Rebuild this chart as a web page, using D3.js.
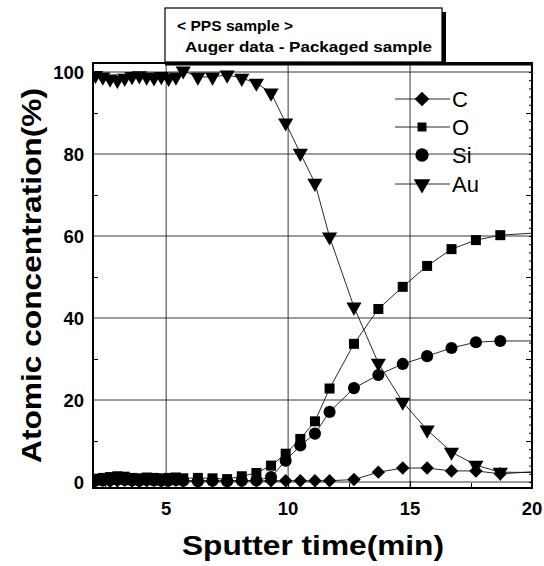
<!DOCTYPE html>
<html>
<head>
<meta charset="utf-8">
<script src="https://cdn.jsdelivr.net/npm/d3@7"></script>
<style>
  body { margin: 0; background: #fff; }
  text { font-family: "Liberation Sans", Arial, sans-serif; }
</style>
</head>
<body>
<div id="chart"></div>
<script>
// sputter time (min)
var time = [2.1, 2.4, 2.7, 3.0, 3.3, 3.6, 3.9, 4.2, 4.5, 4.8, 5.1, 5.4, 5.7, 6.3, 6.9, 7.5, 8.1, 8.7, 9.3, 9.9,
            10.5, 11.1, 11.7, 12.7, 13.7, 14.7, 15.7, 16.7, 17.7, 18.7, 20.3];
var C  = [0.3, 0.4, 0.2, 0.3, 0.4, 0.3, 0.2, 0.3, 0.4, 0.3, 0.3, 0.4, 0.3, 0.3, 0.3, 0.3, 0.3, 0.3, 0.3, 0.3,
          0.3, 0.3, 0.3, 0.6, 2.4, 3.4, 3.4, 2.7, 2.7, 2.0, 2.6];
var O  = [0.8, 1.0, 1.2, 1.4, 1.3, 1.0, 0.9, 1.1, 1.0, 0.9, 1.0, 1.1, 0.9, 1.0, 0.9, 0.7, 1.4, 2.2, 4.0, 6.9,
          10.5, 14.8, 22.8, 33.7, 42.2, 47.6, 52.7, 56.8, 59.0, 60.2, 60.8];
var Si = [0.3, 0.4, 0.5, 0.6, 0.5, 0.4, 0.3, 0.5, 0.4, 0.3, 0.4, 0.5, 0.3, 0.2, 0.3, 0.2, 0.3, 0.4, 1.2, 5.2,
          8.9, 11.8, 17.1, 22.9, 26.1, 28.8, 30.7, 32.7, 34.1, 34.4, 34.4];
var Au = [99.2, 98.8, 98.3, 98.0, 98.5, 98.9, 99.1, 98.8, 98.6, 98.9, 98.5, 98.8, 100.3, 98.8, 98.8, 99.3, 98.5, 97.3, 94.9, 87.6,
          80.2, 72.9, 59.8, 42.7, 29.0, 19.5, 12.7, 7.3, 4.1, 2.4, 2.3];

var seriesNames = ["C", "O", "Si", "Au"];
var seriesValues = [C, O, Si, Au];
var xTicks = [5, 10, 15, 20];
var xMinorTicks = [2.5, 7.5, 12.5, 17.5];
var yTicks = [0, 20, 40, 60, 80, 100];
var yMinorTicks = [10, 30, 50, 70, 90];
var titleLines = ["< PPS sample >", "Auger data - Packaged sample"];

var width = 544, height = 566;
var plot = {left: 93, right: 532, top: 63, bottom: 488};

var x = d3.scaleLinear().domain([2, 20]).range([plot.left, plot.right]);
var y = d3.scaleLinear().domain([0, 100]).range([482, 72]);

var svg = d3.select("#chart").append("svg")
    .attr("width", width)
    .attr("height", height);

svg.append("clipPath").attr("id", "clip")
  .append("rect")
    .attr("x", plot.left).attr("y", plot.top - 10)
    .attr("width", plot.right - plot.left).attr("height", plot.bottom - plot.top + 10);

// grid
var grid = svg.append("g").attr("stroke", "#222").attr("stroke-width", 0.9);
grid.selectAll(".vg").data([5, 10, 15]).enter().append("line")
    .attr("x1", d => x(d)).attr("x2", d => x(d))
    .attr("y1", plot.top).attr("y2", plot.bottom);
grid.selectAll(".hg").data(yTicks).enter().append("line")
    .attr("x1", plot.left).attr("x2", plot.right)
    .attr("y1", d => y(d)).attr("y2", d => y(d));

// axes with inward ticks
svg.append("g")
    .attr("transform", "translate(0," + plot.bottom + ")")
    .call(d3.axisTop(x).tickValues(xTicks).tickSize(7).tickFormat(""))
    .call(g => g.select(".domain").remove());
svg.append("g")
    .attr("transform", "translate(0," + plot.bottom + ")")
    .call(d3.axisTop(x).tickValues(xMinorTicks).tickSize(5).tickFormat(""))
    .call(g => g.select(".domain").remove());
svg.append("g")
    .attr("transform", "translate(" + plot.left + ",0)")
    .call(d3.axisRight(y).tickValues(yMinorTicks).tickSize(5).tickFormat(""))
    .call(g => g.select(".domain").remove());
svg.append("g")
    .attr("transform", "translate(" + plot.right + ",0)")
    .call(d3.axisLeft(y).ticks(50).tickSize(3).tickFormat(""))
    .call(g => g.select(".domain").remove());
svg.append("g")
    .attr("transform", "translate(" + plot.right + ",0)")
    .call(d3.axisLeft(y).tickValues(yMinorTicks).tickSize(6).tickFormat(""))
    .call(g => g.select(".domain").remove());

// tick labels
svg.selectAll(".xl").data(xTicks).enter().append("text")
    .attr("x", d => x(d)).attr("y", 515)
    .attr("text-anchor", "middle")
    .attr("font-size", 18.5).attr("font-weight", "bold")
    .text(d => d);
svg.selectAll(".yl").data(yTicks).enter().append("text")
    .attr("x", 84).attr("y", d => y(d) + 7)
    .attr("text-anchor", "end")
    .attr("font-size", 18.5).attr("font-weight", "bold")
    .text(d => d);

// axis titles
svg.append("text")
    .attr("x", 182).attr("y", 555)
    .attr("font-size", 28).attr("font-weight", "bold")
    .attr("textLength", 262).attr("lengthAdjust", "spacingAndGlyphs")
    .text("Sputter time(min)");
svg.append("text")
    .attr("transform", "translate(41,463) rotate(-90)")
    .attr("font-size", 28).attr("font-weight", "bold")
    .attr("textLength", 375).attr("lengthAdjust", "spacingAndGlyphs")
    .text("Atomic concentration(%)");

// symbols
var symbols = [
    {type: d3.symbolSquare, size: 90, rotate: 45},
    {type: d3.symbolSquare, size: 100, rotate: 0},
    {type: d3.symbolCircle, size: 115, rotate: 0},
    {type: d3.symbolTriangle, size: 100, rotate: 180}
];

var line = d3.line()
    .x(function(d, i) { return x(time[i]); })
    .y(function(d) { return y(d); });

var data = svg.append("g").attr("clip-path", "url(#clip)");
for (var i = 0; i < seriesValues.length; ++i) {
    data.append("path")
        .datum(seriesValues[i])
        .attr("d", line)
        .attr("style", "fill: none; stroke: #111; stroke-width: 0.9;");
}
for (var i = seriesValues.length - 1; i >= 0; --i) {
    var s = symbols[i];
    data.selectAll(".m" + i)
        .data(seriesValues[i])
        .enter().append("path")
        .attr("d", d3.symbol().type(s.type).size(s.size))
        .attr("transform", (d, j) => "translate(" + x(time[j]) + "," + y(d) + ") rotate(" + s.rotate + ")")
        .attr("fill", "#000");
}

// frame
svg.append("rect")
    .attr("x", plot.left).attr("y", plot.top)
    .attr("width", plot.right - plot.left).attr("height", plot.bottom - plot.top)
    .attr("fill", "none").attr("stroke", "#000").attr("stroke-width", 2);
svg.append("line")
    .attr("x1", 165).attr("x2", plot.right).attr("y1", plot.top + 1).attr("y2", plot.top + 1)
    .attr("stroke", "#000").attr("stroke-width", 3);

// legend
var legendY = [99, 127, 155, 184];
seriesNames.forEach((name, i) => {
    var g = svg.append("g").attr("transform", "translate(0," + legendY[i] + ")");
    if (name != "Si")
        g.append("line").attr("x1", 395).attr("x2", 450).attr("y1", 0).attr("y2", 0)
            .attr("stroke", "#111").attr("stroke-width", 0.9);
    g.append("path")
        .attr("d", d3.symbol().type(symbols[i].type).size(symbols[i].size * (i == 1 ? 0.8 : 1.2)))
        .attr("transform", "translate(422,0) rotate(" + symbols[i].rotate + ")")
        .attr("fill", "#000");
    g.append("text")
        .attr("x", 452).attr("y", 8)
        .attr("font-size", 22)
        .text(name);
});

// title box with shadow
var titleX = [177, 185], titleW = [116, 247], titleY = [31, 52];
svg.append("rect").attr("x", 169).attr("y", 12).attr("width", 277).attr("height", 52).attr("fill", "#000");
svg.append("rect").attr("x", 165).attr("y", 8).attr("width", 277).attr("height", 54)
    .attr("fill", "#fff").attr("stroke", "#000").attr("stroke-width", 1.2);
titleLines.forEach((t, i) => {
    svg.append("text")
        .attr("x", titleX[i]).attr("y", titleY[i])
        .attr("font-size", 15).attr("font-weight", "bold")
        .attr("textLength", titleW[i]).attr("lengthAdjust", "spacingAndGlyphs")
        .text(t);
});
</script>
</body>
</html>
